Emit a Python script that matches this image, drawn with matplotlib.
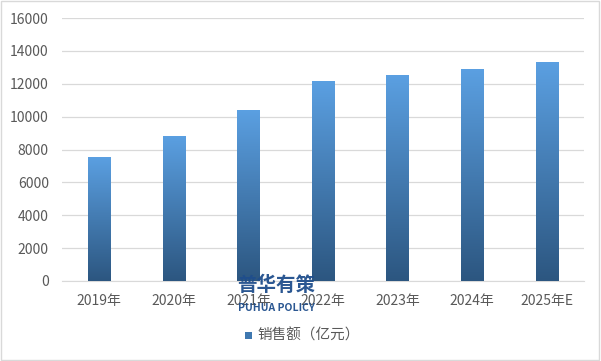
import matplotlib.pyplot as plt
import numpy as np
from matplotlib.colors import LinearSegmentedColormap
from matplotlib.patches import Rectangle

plt.rcParams['font.family'] = ['Noto Sans CJK SC', 'DejaVu Sans']

years = ['2019年', '2020年', '2021年', '2022年', '2023年', '2024年', '2025年E']
sales = [7550, 8850, 10420, 12180, 12550, 12920, 13330]

fig = plt.figure(figsize=[6.01, 3.61], dpi=100)
ax = fig.add_axes([62 / 601, 80 / 361, 522 / 601, 263 / 361])

x = np.arange(len(years))
bars = ax.bar(x, sales, width=0.3, color='none', zorder=3)

cmap = LinearSegmentedColormap.from_list('grad', ['#2c5680', '#5ba0e2'])
grad = np.linspace(0, 1, 256).reshape(-1, 1)
for b in bars:
    x0, w, h = b.get_x(), b.get_width(), b.get_height()
    im = ax.imshow(grad, cmap=cmap, origin='lower', aspect='auto',
                   extent=[x0, x0 + w, 0, h], zorder=3)
    im.set_clip_path(b)

ax.set_xlim(-0.5, len(years) - 0.5)
ax.set_ylim(0, 16000)
ax.set_yticks(np.arange(0, 16001, 2000))
ax.set_xticks(x)
ax.set_xticklabels(years)
ax.grid(axis='y', color='#d9d9d9', linewidth=0.9, zorder=0)
for s in ['top', 'right', 'left']:
    ax.spines[s].set_visible(False)
ax.spines['bottom'].set_color('#d9d9d9')
ax.tick_params(length=0, colors='#595959', labelsize=10)
ax.tick_params(axis='y', pad=9.5)
ax.tick_params(axis='x', pad=9)

# legend
fig.patches.append(Rectangle((245 / 601, 1 - 339 / 361), 7 / 601, 7 / 361,
                             transform=fig.transFigure, facecolor='#3f78b0'))
fig.text(257 / 601, 1 - 335 / 361, '销售额（亿元）', fontsize=10.5, color='#595959',
         va='center', ha='left')

# watermark
fig.text(276 / 601, 1 - 285 / 361, '普华有策', fontsize=14, color='#1f4e8c',
         fontweight='bold', ha='center', va='center', alpha=0.95)
fig.text(276 / 601, 1 - 308 / 361, 'PUHUA POLICY', fontsize=7.5, color='#1f4e8c',
         fontweight='bold', ha='center', va='center', alpha=0.95)

# outer border
fig.patches.append(Rectangle((0.002, 0.003), 0.995, 0.993, transform=fig.transFigure,
                             fill=False, edgecolor='#d9d9d9', linewidth=1))

plt.savefig('out.png', dpi=100)
